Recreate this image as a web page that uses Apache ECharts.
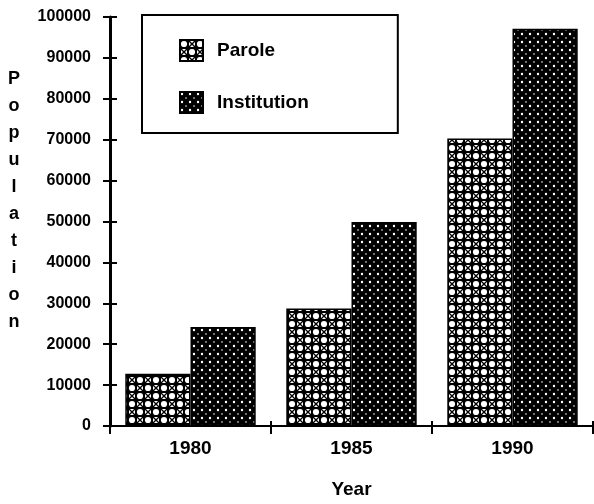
<!DOCTYPE html>
<html>
<head>
<meta charset="utf-8">
<title>Population by year</title>
<script src="https://cdn.jsdelivr.net/npm/echarts@6/dist/echarts.min.js"></script>
<style>
  html, body { margin: 0; background: #fff; }
  #chart { width: 594px; height: 504px; }
</style>
</head>
<body>
<div id="chart"></div>
<script>
const years = ['1980', '1985', '1990'];
const parole = [12800, 28700, 70300];
const institution = [24200, 49900, 97100];
const yMin = 0;
const yMax = 100000;
const yStep = 10000;

const FONT = '"Liberation Sans", Arial, sans-serif';

// lattice fill used for the Parole bars
const makeParole = () => {
  const c = document.createElement('canvas');
  c.width = 16; c.height = 16;
  const g = c.getContext('2d');
  g.fillStyle = '#000';
  g.fillRect(0, 0, 16, 16);
  g.fillStyle = '#fff';
  [[4, 4], [12, 12]].forEach(([x, y]) => {
    g.beginPath();
    g.arc(x, y, 3.1, 0, Math.PI * 2);
    g.fill();
  });
  [[8, 0], [0, 8]].forEach(([ox, oy]) => {
    g.fillStyle = '#fff';
    g.fillRect(ox + 1, oy + 1, 6, 6);
    g.strokeStyle = '#000';
    g.lineWidth = 1.4;
    g.beginPath();
    g.moveTo(ox + 1, oy + 1); g.lineTo(ox + 7, oy + 7);
    g.moveTo(ox + 7, oy + 1); g.lineTo(ox + 1, oy + 7);
    g.stroke();
  });
  return c;
};

// dark dotted fill used for the Institution bars
const makeInstitution = () => {
  const c = document.createElement('canvas');
  c.width = 8; c.height = 8;
  const g = c.getContext('2d');
  g.fillStyle = '#000';
  g.fillRect(0, 0, 8, 8);
  g.fillStyle = '#fff';
  g.beginPath(); g.arc(2, 2, 1.2, 0, Math.PI * 2); g.fill();
  g.beginPath(); g.arc(6, 6, 0.8, 0, Math.PI * 2); g.fill();
  return c;
};

const chart = echarts.init(document.getElementById('chart'));

const tickStyle = { color: '#000', width: 2 };
const txt = { fontFamily: FONT, fontWeight: 'bold', color: '#000' };

chart.setOption({
  backgroundColor: '#fff',
  animation: false,
  grid: { left: 110, right: 1, top: 17, bottom: 66, containLabel: false },
  legend: {
    orient: 'vertical',
    left: 142,
    top: 15,
    padding: [24, 89, 19, 37],
    itemWidth: 23,
    itemHeight: 21,
    itemGap: 29,
    borderColor: '#000',
    borderWidth: 2,
    borderRadius: 0,
    selectedMode: false,
    icon: 'rect',
    textStyle: { ...txt, fontSize: 19, padding: [0, 0, 0, 9], lineHeight: 21 },
    data: ['Parole', 'Institution'],
  },
  xAxis: [
    {
      type: 'category',
      data: years,
      position: 'bottom',
      boundaryGap: true,
      axisLine: { lineStyle: { color: '#000', width: 2 } },
      axisTick: { show: true, length: 8, lineStyle: tickStyle },
      axisLabel: { ...txt, fontSize: 19, margin: 13 },
      name: 'Year',
      nameLocation: 'middle',
      nameGap: 54,
      nameTextStyle: { ...txt, fontSize: 19 },
    },
    {
      type: 'category',
      data: years,
      position: 'bottom',
      boundaryGap: true,
      axisLine: { show: false },
      axisTick: { show: true, inside: true, length: 5, lineStyle: tickStyle },
      axisLabel: { show: false },
    },
  ],
  yAxis: [
    {
      type: 'value',
      min: yMin,
      max: yMax,
      interval: yStep,
      position: 'left',
      axisLine: { show: true, lineStyle: { color: '#000', width: 3 } },
      axisTick: { show: true, length: 7, lineStyle: tickStyle },
      axisLabel: { ...txt, fontSize: 16, margin: 19, formatter: (v) => String(v) },
      splitLine: { show: false },
    },
    {
      type: 'value',
      min: yMin,
      max: yMax,
      interval: yStep,
      position: 'left',
      axisLine: { show: false },
      axisTick: { show: true, inside: true, length: 7, lineStyle: tickStyle },
      axisLabel: { show: false },
      splitLine: { show: false },
    },
  ],
  graphic: [
    {
      type: 'text',
      x: 14,
      y: 66,
      style: {
        text: 'Population'.split('').join('\n'),
        textAlign: 'center',
        textVerticalAlign: 'top',
        font: 'bold 18px ' + FONT,
        lineHeight: 27,
        fill: '#000',
      },
    },
  ],
  series: [
    {
      name: 'Parole',
      type: 'bar',
      data: parole,
      barGap: '0%',
      barCategoryGap: '19%',
      itemStyle: { color: { image: makeParole(), repeat: 'repeat' }, borderColor: '#000', borderWidth: 1.5 },
    },
    {
      name: 'Institution',
      type: 'bar',
      data: institution,
      barGap: '0%',
      barCategoryGap: '19%',
      itemStyle: { color: { image: makeInstitution(), repeat: 'repeat' }, borderColor: '#000', borderWidth: 1.5 },
    },
  ],
});
</script>
</body>
</html>
